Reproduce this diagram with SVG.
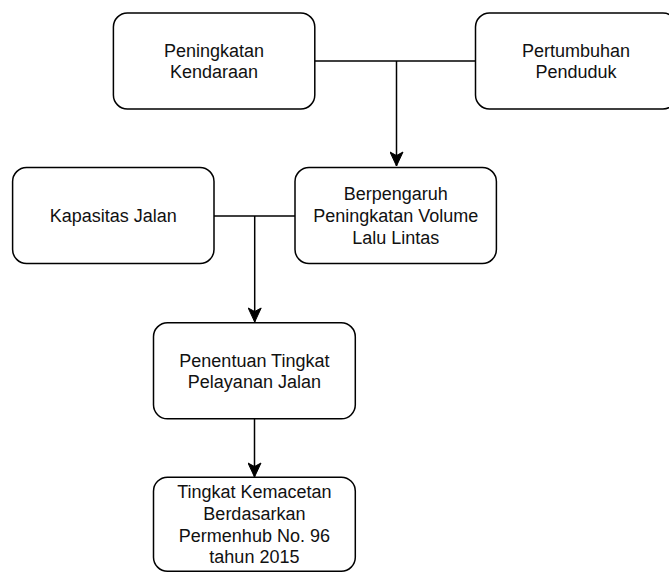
<svg xmlns="http://www.w3.org/2000/svg" width="669" height="572" viewBox="0 0 669 572">
<defs>
<style>
.box{fill:#fff;stroke:#000;stroke-width:1.5}
.t{font-family:"Liberation Sans",Arial,sans-serif;font-size:18px;fill:#111;text-anchor:middle}
.c{fill:none;stroke:#000;stroke-width:1.5}
</style>
<marker id="arr" markerWidth="16" markerHeight="14" viewBox="0 0 16 14" refX="15" refY="7" orient="auto" markerUnits="userSpaceOnUse">
<path d="M1,0.5 L15,7 L1,13.5 L4.5,7 Z" fill="#000" stroke="#000" stroke-width="1"/>
</marker>
</defs>
<rect width="669" height="572" fill="#fff"/>
<g id="connectors">
<path class="c" d="M314.8,61 H475.5"/>
<path class="c" d="M396.5,61 V166" marker-end="url(#arr)"/>
<path class="c" d="M214,216 H295"/>
<path class="c" d="M254.7,216 V322" marker-end="url(#arr)"/>
<path class="c" d="M254.5,419 V477" marker-end="url(#arr)"/>
</g>
<g id="n1">
<rect class="box" x="113.4" y="13" width="201.4" height="96" rx="14"/>
<text class="t" x="214" y="56.5">Peningkatan</text>
<text class="t" x="214" y="78.1">Kendaraan</text>
</g>
<g id="n2">
<rect class="box" x="475.5" y="13" width="201.4" height="96" rx="14"/>
<text class="t" x="576" y="56.5">Pertumbuhan</text>
<text class="t" x="576" y="78.1">Penduduk</text>
</g>
<g id="n3">
<rect class="box" x="12.6" y="167.5" width="201.4" height="96" rx="14"/>
<text class="t" x="113.3" y="222">Kapasitas Jalan</text>
</g>
<g id="n4">
<rect class="box" x="295" y="167.5" width="201.4" height="96" rx="14"/>
<text class="t" x="395.7" y="200.4">Berpengaruh</text>
<text class="t" x="395.7" y="222">Peningkatan Volume</text>
<text class="t" x="395.7" y="243.6">Lalu Lintas</text>
</g>
<g id="n5">
<rect class="box" x="153.5" y="322.8" width="201.8" height="96" rx="14"/>
<text class="t" x="254.4" y="366.5">Penentuan Tingkat</text>
<text class="t" x="254.4" y="388.1">Pelayanan Jalan</text>
</g>
<g id="n6">
<rect class="box" x="153.5" y="477.2" width="201.8" height="94" rx="14"/>
<text class="t" x="254.4" y="498.4">Tingkat Kemacetan</text>
<text class="t" x="254.4" y="520">Berdasarkan</text>
<text class="t" x="254.4" y="541.6">Permenhub No. 96</text>
<text class="t" x="254.4" y="563.2">tahun 2015</text>
</g>
</svg>
